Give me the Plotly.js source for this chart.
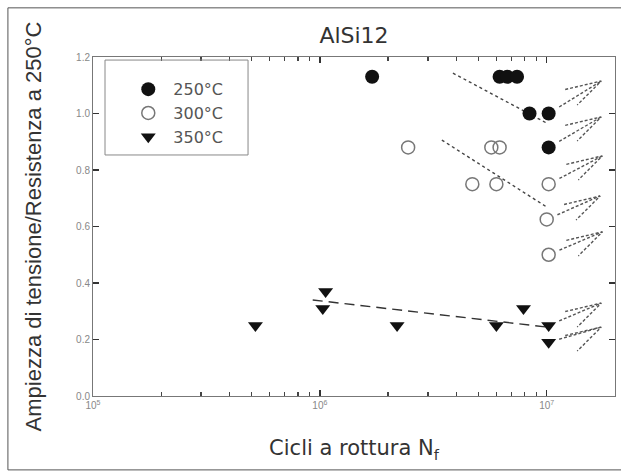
<!DOCTYPE html>
<html>
<head>
<meta charset="utf-8">
<script src="https://cdn.plot.ly/plotly-3.0.1.min.js"></script>
<style>html,body{margin:0;padding:0;background:#fff;}#chart{width:621px;height:475px;}</style>
</head>
<body>
<div id="chart"></div>
<script>
// ---- data ----
const seriesNames = ['250°C', '300°C', '350°C'];

const x250 = [1.7e6, 6.2e6, 6.7e6, 7.4e6, 8.4e6, 1.02e7, 1.02e7];
const y250 = [1.13, 1.13, 1.13, 1.13, 1.0, 1.0, 0.88];

const x300 = [2.45e6, 5.7e6, 6.2e6, 4.7e6, 6.0e6, 1.02e7, 1.0e7, 1.02e7];
const y300 = [0.88, 0.88, 0.88, 0.75, 0.75, 0.75, 0.625, 0.5];

const x350 = [5.2e5, 1.06e6, 1.03e6, 2.19e6, 6.0e6, 7.9e6, 1.02e7, 1.02e7];
const y350 = [0.25, 0.37, 0.31, 0.25, 0.25, 0.31, 0.25, 0.19];

// trend lines (end points)
const fit250X = [3.86e6, 1.0e7];
const fit250Y = [1.143, 0.966];
const fit300X = [3.45e6, 1.0e7];
const fit300Y = [0.906, 0.669];
const fit350X = [9.3e5, 1.0e7];
const fit350Y = [0.340, 0.244];

// run-out arrows (tail = run-out specimen, tip)
const runoutX = [1.02e7, 1.02e7, 1.02e7, 1.0e7, 1.02e7, 1.02e7, 1.02e7];
const runoutY = [1.0, 0.88, 0.75, 0.625, 0.5, 0.25, 0.19];
const tipX = [1.74e7, 1.74e7, 1.76e7, 1.72e7, 1.76e7, 1.74e7, 1.74e7];
const tipY = [1.115, 0.988, 0.85, 0.708, 0.581, 0.329, 0.244];

const xTickVals = [1e5, 1e6, 1e7];
const xTickText = ['10<sup>5</sup>', '10<sup>6</sup>', '10<sup>7</sup>'];
const xMinorVals = [2e5, 3e5, 4e5, 5e5, 6e5, 7e5, 8e5, 9e5, 2e6, 3e6, 4e6, 5e6, 6e6, 7e6, 8e6, 9e6];
const yTickVals = [0.0, 0.2, 0.4, 0.6, 0.8, 1.0, 1.2];
const yTickText = ['0.0', '0.2', '0.4', '0.6', '0.8', '1.0', '1.2'];

// ---- arrow geometry (style) ----
const shaftStart = 0.2;               // fraction of way from tail to tip
const headUp = [-0.159, -0.030];      // [dlog10 x, dy]
const headDown = [-0.106, -0.085];

const ax = [], ay = [];
for (let i = 0; i < runoutX.length; i++) {
  const lx0 = Math.log10(runoutX[i]), lx1 = Math.log10(tipX[i]);
  const sx = Math.pow(10, lx0 + shaftStart * (lx1 - lx0));
  const sy = runoutY[i] + shaftStart * (tipY[i] - runoutY[i]);
  ax.push(sx, tipX[i], null);
  ay.push(sy, tipY[i], null);
  ax.push(Math.pow(10, lx1 + headUp[0]), tipX[i], Math.pow(10, lx1 + headDown[0]), null);
  ay.push(tipY[i] + headUp[1], tipY[i], tipY[i] + headDown[1], null);
}

const xRange = [5, Math.log10(2e7)];

const traces = [
  {x: fit250X, y: fit250Y, mode: 'lines', line: {color: '#444', width: 1.4, dash: 'dot'}, showlegend: false, hoverinfo: 'skip'},
  {x: fit300X, y: fit300Y, mode: 'lines', line: {color: '#444', width: 1.4, dash: 'dot'}, showlegend: false, hoverinfo: 'skip'},
  {x: fit350X, y: fit350Y, mode: 'lines', line: {color: '#333', width: 1.4, dash: '10px,6px'}, showlegend: false, hoverinfo: 'skip'},
  {x: ax, y: ay, mode: 'lines', line: {color: '#555', width: 1.4, dash: '3px,2px'}, showlegend: false, hoverinfo: 'skip', connectgaps: false},
  {x: x250, y: y250, mode: 'markers', name: seriesNames[0],
   marker: {symbol: 'circle', size: 14, color: '#111', line: {width: 0}}},
  {x: x300, y: y300, mode: 'markers', name: seriesNames[1],
   marker: {symbol: 'circle-open', size: 13, color: '#777', line: {width: 1.5, color: '#777'}}},
  {x: x350, y: y350, mode: 'markers', name: seriesNames[2],
   marker: {symbol: 'triangle-down', size: 13, color: '#111', line: {width: 0}}},
  // invisible carrier for the minor-tick axis
  {x: [xTickVals[0]], y: [yTickVals[0]], xaxis: 'x2', mode: 'markers', marker: {opacity: 0},
   showlegend: false, hoverinfo: 'skip'}
];

const axisFont = {family: 'Liberation Sans, Arial, sans-serif', size: 10, color: '#888'};

const layout = {
  width: 621, height: 475,
  margin: {l: 93, r: 6, t: 57, b: 79},
  paper_bgcolor: '#fff', plot_bgcolor: '#fff',
  font: {family: 'Liberation Sans, Arial, sans-serif', color: '#333'},
  title: {text: 'AlSi12', font: {family: 'DejaVu Sans, sans-serif', size: 22, color: '#333'},
          x: 0.5, xref: 'paper', xanchor: 'center', y: 1 - 35 / 475, yref: 'container', yanchor: 'middle'},
  showlegend: true,
  legend: {x: 0.058, y: 0.955, xanchor: 'left', yanchor: 'top', bgcolor: 'rgba(0,0,0,0)',
           borderwidth: 0, itemwidth: 40,
           font: {family: 'DejaVu Sans, sans-serif', size: 16, color: '#555'}},
  xaxis: {
    type: 'log', range: xRange,
    tickmode: 'array', tickvals: xTickVals, ticktext: xTickText,
    ticks: 'inside', ticklen: 6, tickcolor: '#333', tickwidth: 1.5,
    showline: true, linecolor: '#777', linewidth: 1, mirror: 'ticks',
    showgrid: false, zeroline: false, tickfont: axisFont,
    title: {text: 'Cicli a rottura N<sub>f</sub>', standoff: 30,
            font: {family: 'DejaVu Sans, sans-serif', size: 21, color: '#333'}},
    automargin: false
  },
  xaxis2: {
    type: 'log', range: xRange, overlaying: 'x', side: 'bottom', anchor: 'y',
    tickmode: 'array', tickvals: xMinorVals, showticklabels: false,
    ticks: 'inside', ticklen: 4, tickcolor: '#444', tickwidth: 1.5, mirror: 'ticks',
    showline: false, showgrid: false, zeroline: false, automargin: false
  },
  yaxis: {
    range: [0, 1.2], tickmode: 'array', tickvals: yTickVals, ticktext: yTickText,
    ticks: 'inside', ticklen: 6, tickcolor: '#333', tickwidth: 1.5,
    showline: true, linecolor: '#777', linewidth: 1, mirror: 'ticks',
    showgrid: false, zeroline: false, tickfont: axisFont,
    title: {text: 'Ampiezza di tensione/Resistenza a 250°C', standoff: 28,
            font: {family: 'Liberation Sans, Arial, sans-serif', size: 22, color: '#333'}},
    automargin: false
  },
  shapes: [
    // legend frame
    {type: 'rect', xref: 'paper', yref: 'paper', x0: 0.023, x1: 0.297, y0: 0.711, y1: 0.991,
     line: {color: '#888', width: 1}, fillcolor: 'rgba(0,0,0,0)'},
    // outer frame of the figure
    {type: 'rect', xref: 'paper', yref: 'paper', x0: -0.163, x1: 1.04, y0: -0.218, y1: 1.145,
     line: {color: '#555', width: 1}, fillcolor: 'rgba(0,0,0,0)', layer: 'below'}
  ]
};

Plotly.newPlot('chart', traces, layout, {staticPlot: true, displayModeBar: false});
</script>
</body>
</html>
